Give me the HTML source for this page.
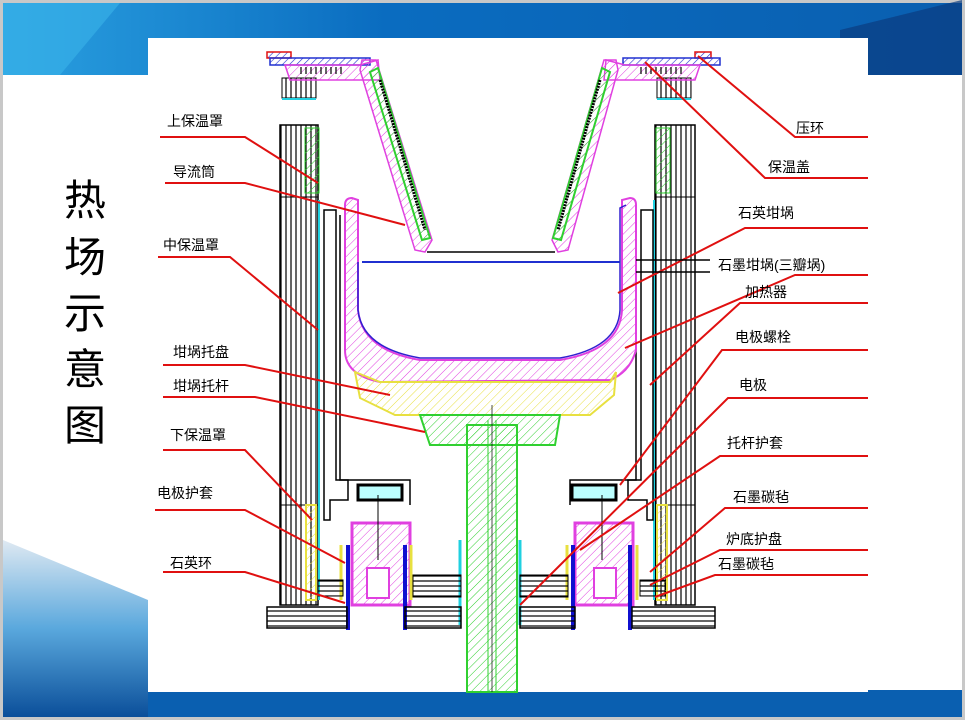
<!DOCTYPE html>
<html><head><meta charset="utf-8"><style>
html,body{margin:0;padding:0;width:965px;height:720px;overflow:hidden;background:#fff}
svg{display:block}
text{font-family:"Liberation Sans","Noto Sans CJK SC",sans-serif}
</style></head><body>
<svg width="965" height="720" viewBox="0 0 965 720" xmlns="http://www.w3.org/2000/svg">
<defs>
<linearGradient id="hdr" x1="0" x2="1"><stop offset="0" stop-color="#2aa0e0"/><stop offset=".4" stop-color="#0a6cc0"/><stop offset="1" stop-color="#0a5fb0"/></linearGradient>
<linearGradient id="bl" x1="0" y1="0" x2="0" y2="1"><stop offset="0" stop-color="#dfe9f2"/><stop offset=".5" stop-color="#5aa8dd"/><stop offset="1" stop-color="#0b4f9a"/></linearGradient>
<pattern id="hm" width="6" height="6" patternUnits="userSpaceOnUse" patternTransform="rotate(45)"><line x1="0" y1="0" x2="0" y2="6" stroke="#e040e0" stroke-width="1"/></pattern>
<pattern id="hy" width="6" height="6" patternUnits="userSpaceOnUse" patternTransform="rotate(45)"><line x1="0" y1="0" x2="0" y2="6" stroke="#e8e040" stroke-width="1"/></pattern>
<pattern id="hg" width="6" height="6" patternUnits="userSpaceOnUse" patternTransform="rotate(45)"><line x1="0" y1="0" x2="0" y2="6" stroke="#30d030" stroke-width="1"/></pattern>
<pattern id="hb" width="5" height="5" patternUnits="userSpaceOnUse" patternTransform="rotate(45)"><line x1="0" y1="0" x2="0" y2="5" stroke="#2030d0" stroke-width="1.2"/></pattern>
<pattern id="vl" width="5" height="10" patternUnits="userSpaceOnUse"><line x1="1" y1="0" x2="1" y2="10" stroke="#000" stroke-width="1.2"/></pattern>
<pattern id="hl" width="10" height="5" patternUnits="userSpaceOnUse"><line x1="0" y1="1" x2="10" y2="1" stroke="#000" stroke-width="1.2"/></pattern>
</defs>
<rect width="965" height="720" fill="#c8c8c8"/>
<rect x="3" y="3" width="959" height="714" fill="#fff"/>
<rect x="3" y="3" width="959" height="72" fill="url(#hdr)"/>
<polygon points="3,3 120,3 60,75 3,75" fill="#3ab4ea" opacity=".6"/>
<polygon points="840,30 962,0 962,75 840,75" fill="#0a3c80" opacity=".7"/>
<rect x="3" y="690" width="959" height="27" fill="#0a5fb0"/>
<polygon points="3,540 148,600 148,717 3,717" fill="url(#bl)"/>
<rect x="148" y="38" width="720" height="654" fill="#fff"/>

<g font-size="42" fill="#000" text-anchor="middle">
<text x="85" y="215">热</text><text x="85" y="272">场</text><text x="85" y="328">示</text><text x="85" y="384">意</text><text x="85" y="440">图</text>
</g>

<rect x="280" y="125" width="38" height="480" fill="url(#vl)" stroke="#000" stroke-width="1.5"/>
<rect x="655" y="125" width="40" height="480" fill="url(#vl)" stroke="#000" stroke-width="1.5"/>
<line x1="280" y1="197" x2="318" y2="197" stroke="#000"/><line x1="655" y1="197" x2="695" y2="197" stroke="#000"/>
<line x1="280" y1="505" x2="318" y2="505" stroke="#000"/><line x1="655" y1="505" x2="695" y2="505" stroke="#000"/>
<rect x="305" y="128" width="14" height="65" fill="url(#hg)" stroke="#30d030"/>
<rect x="656" y="128" width="14" height="65" fill="url(#hg)" stroke="#30d030"/>
<line x1="319" y1="200" x2="319" y2="600" stroke="#20d0e0" stroke-width="2"/>
<line x1="654" y1="200" x2="654" y2="600" stroke="#20d0e0" stroke-width="2"/>
<rect x="282" y="78" width="34" height="20" fill="url(#vl)" stroke="#000"/>
<rect x="657" y="78" width="34" height="20" fill="url(#vl)" stroke="#000"/>
<line x1="282" y1="99" x2="316" y2="99" stroke="#20d0e0" stroke-width="2"/><line x1="657" y1="99" x2="691" y2="99" stroke="#20d0e0" stroke-width="2"/>
<path d="M306,505 L316,505 L316,600 L306,600 Z" fill="url(#hy)" stroke="#e8e040" stroke-width="2"/>
<path d="M657,505 L667,505 L667,600 L657,600 Z" fill="url(#hy)" stroke="#e8e040" stroke-width="2"/>

<path d="M324,210 L336,210 L336,480 L348,480 L348,500 L330,500 L330,520 L324,520 Z" fill="none" stroke="#000" stroke-width="1.5"/>
<path d="M641,210 L653,210 L653,520 L647,520 L647,500 L628,500 L628,480 L641,480 Z" fill="none" stroke="#000" stroke-width="1.5"/>
<path d="M340,215 V480 H410 V505" fill="none" stroke="#000" stroke-width="1.5"/>
<path d="M636,215 V480 H570 V505" fill="none" stroke="#000" stroke-width="1.5"/>

<rect x="267" y="52" width="24" height="6" fill="url(#hb)" stroke="#e01010" stroke-width="1.5"/>
<rect x="270" y="58" width="100" height="7" fill="url(#hb)" stroke="#2030d0" stroke-width="1.5"/>
<path d="M285,65 L360,65 L378,60 L380,80 L290,80 Z" fill="url(#hm)" stroke="#e040e0" stroke-width="1.5"/>
<rect x="298" y="67" width="45" height="7" fill="url(#vl)"/>
<rect x="695" y="52" width="16" height="6" fill="url(#hb)" stroke="#e01010" stroke-width="1.5"/>
<rect x="623" y="58" width="97" height="7" fill="url(#hb)" stroke="#2030d0" stroke-width="1.5"/>
<path d="M700,65 L625,65 L606,60 L604,80 L695,80 Z" fill="url(#hm)" stroke="#e040e0" stroke-width="1.5"/>
<rect x="640" y="67" width="45" height="7" fill="url(#vl)"/>

<path d="M362,60 L376,60 L432,240 L425,252 L415,250 L360,70 Z" fill="url(#hm)" stroke="#e040e0" stroke-width="1.5"/>
<path d="M370,72 L378,68 L430,238 L422,240 Z" fill="url(#hg)" stroke="#30d030" stroke-width="2"/>
<line x1="380" y1="80" x2="425" y2="230" stroke="#000" stroke-width="3" stroke-dasharray="2 1"/>
<path d="M616,60 L604,60 L552,240 L558,252 L568,250 L618,70 Z" fill="url(#hm)" stroke="#e040e0" stroke-width="1.5"/>
<path d="M610,72 L602,68 L553,238 L561,240 Z" fill="url(#hg)" stroke="#30d030" stroke-width="2"/>
<line x1="600" y1="80" x2="558" y2="230" stroke="#000" stroke-width="3" stroke-dasharray="2 1"/>
<line x1="427" y1="252" x2="555" y2="252" stroke="#000" stroke-width="1.5"/>

<path d="M345,205 Q345,198 352,198 L358,200 L358,310 Q362,350 420,360 L560,360 Q620,350 622,310 L622,200 L630,198 Q636,198 636,205 L636,350 Q630,372 610,380 L380,382 Q345,375 345,350 Z" fill="url(#hm)" stroke="#e040e0" stroke-width="2"/>
<path d="M358,262 L358,310 Q362,348 420,358 L560,358 Q618,348 620,310 L620,208 L626,205" fill="none" stroke="#3020d0" stroke-width="1.5"/>
<line x1="362" y1="262" x2="620" y2="262" stroke="#2030d0" stroke-width="2"/>
<path d="M355,372 L380,382 L610,382 L616,372 L614,395 L590,415 L395,415 L360,398 Z" fill="url(#hy)" stroke="#e8e040" stroke-width="2"/>
<path d="M420,415 L560,415 L555,445 L430,445 Z" fill="url(#hg)" stroke="#30d030" stroke-width="2"/>
<rect x="467" y="425" width="50" height="267" fill="url(#hg)" stroke="#30d030" stroke-width="2"/>
<line x1="488" y1="420" x2="488" y2="692" stroke="#30d030"/><line x1="496" y1="420" x2="496" y2="692" stroke="#30d030"/>
<line x1="492" y1="405" x2="492" y2="692" stroke="#000" stroke-width=".7"/>
<line x1="460" y1="540" x2="460" y2="625" stroke="#20d0e0" stroke-width="3"/>
<line x1="520" y1="540" x2="520" y2="625" stroke="#20d0e0" stroke-width="3"/>

<g>
<rect x="358" y="485" width="44" height="15" fill="#bff" stroke="#000" stroke-width="3"/>
<rect x="352" y="523" width="58" height="82" fill="url(#hm)" stroke="#e040e0" stroke-width="3"/>
<rect x="367" y="568" width="22" height="30" fill="#fff" stroke="#e040e0" stroke-width="2"/>
<line x1="378" y1="495" x2="378" y2="560" stroke="#000"/>
<rect x="572" y="485" width="44" height="15" fill="#bff" stroke="#000" stroke-width="3"/>
<rect x="575" y="523" width="58" height="82" fill="url(#hm)" stroke="#e040e0" stroke-width="3"/>
<rect x="594" y="568" width="22" height="30" fill="#fff" stroke="#e040e0" stroke-width="2"/>
<line x1="602" y1="495" x2="602" y2="560" stroke="#000"/>
<line x1="348" y1="545" x2="348" y2="630" stroke="#1010d0" stroke-width="4"/>
<line x1="405" y1="545" x2="405" y2="630" stroke="#1010d0" stroke-width="4"/>
<line x1="573" y1="545" x2="573" y2="630" stroke="#1010d0" stroke-width="4"/>
<line x1="630" y1="545" x2="630" y2="630" stroke="#1010d0" stroke-width="4"/>
<line x1="341" y1="545" x2="341" y2="600" stroke="#e8e040" stroke-width="3"/>
<line x1="411" y1="545" x2="411" y2="600" stroke="#e8e040" stroke-width="3"/>
<line x1="567" y1="545" x2="567" y2="600" stroke="#e8e040" stroke-width="3"/>
<line x1="637" y1="545" x2="637" y2="600" stroke="#e8e040" stroke-width="3"/>
</g>
<rect x="318" y="580" width="25" height="16" fill="url(#hl)" stroke="#000"/>
<rect x="413" y="575" width="48" height="22" fill="url(#hl)" stroke="#000"/>
<rect x="520" y="575" width="48" height="22" fill="url(#hl)" stroke="#000"/>
<rect x="640" y="580" width="25" height="16" fill="url(#hl)" stroke="#000"/>
<rect x="267" y="607" width="80" height="21" fill="url(#hl)" stroke="#000" stroke-width="1.5"/>
<rect x="405" y="607" width="56" height="21" fill="url(#hl)" stroke="#000" stroke-width="1.5"/>
<rect x="520" y="607" width="55" height="21" fill="url(#hl)" stroke="#000" stroke-width="1.5"/>
<rect x="632" y="607" width="83" height="21" fill="url(#hl)" stroke="#000" stroke-width="1.5"/>

<g stroke="#e01010" stroke-width="2" fill="none">
<polyline points="160,137 245,137 318,183"/>
<polyline points="165,183 245,183 405,225"/>
<polyline points="158,257 230,257 318,330"/>
<polyline points="163,365 245,365 390,395"/>
<polyline points="163,397 255,397 425,432"/>
<polyline points="163,450 245,450 312,520"/>
<polyline points="155,510 245,510 345,563"/>
<polyline points="163,572 245,572 345,603"/>
<polyline points="868,137 795,137 698,56"/>
<polyline points="868,178 765,178 645,62"/>
<polyline points="868,228 745,228 618,293"/>
<polyline points="868,275 795,275 625,348"/>
<polyline points="868,303 740,303 650,385"/>
<polyline points="868,350 722,350 620,485"/>
<polyline points="868,398 728,398 520,605"/>
<polyline points="868,456 720,456 580,550"/>
<polyline points="868,508 725,508 650,572"/>
<polyline points="868,550 720,550 650,585"/>
<polyline points="868,575 715,575 655,597"/>
</g>
<line x1="636" y1="260" x2="710" y2="260" stroke="#000" stroke-width="1.5"/>
<line x1="636" y1="272" x2="710" y2="272" stroke="#000" stroke-width="1.5"/>

<g font-size="14" fill="#000">
<text x="167" y="126">上保温罩</text>
<text x="173" y="177">导流筒</text>
<text x="163" y="250">中保温罩</text>
<text x="173" y="357">坩埚托盘</text>
<text x="173" y="391">坩埚托杆</text>
<text x="170" y="440">下保温罩</text>
<text x="157" y="498">电极护套</text>
<text x="170" y="568">石英环</text>
<text x="796" y="133">压环</text>
<text x="768" y="172">保温盖</text>
<text x="738" y="218">石英坩埚</text>
<text x="718" y="270">石墨坩埚(三瓣埚)</text>
<text x="745" y="297">加热器</text>
<text x="735" y="342">电极螺栓</text>
<text x="739" y="390">电极</text>
<text x="727" y="448">托杆护套</text>
<text x="733" y="502">石墨碳毡</text>
<text x="726" y="544">炉底护盘</text>
<text x="718" y="569">石墨碳毡</text>
</g>
</svg>
</body></html>
